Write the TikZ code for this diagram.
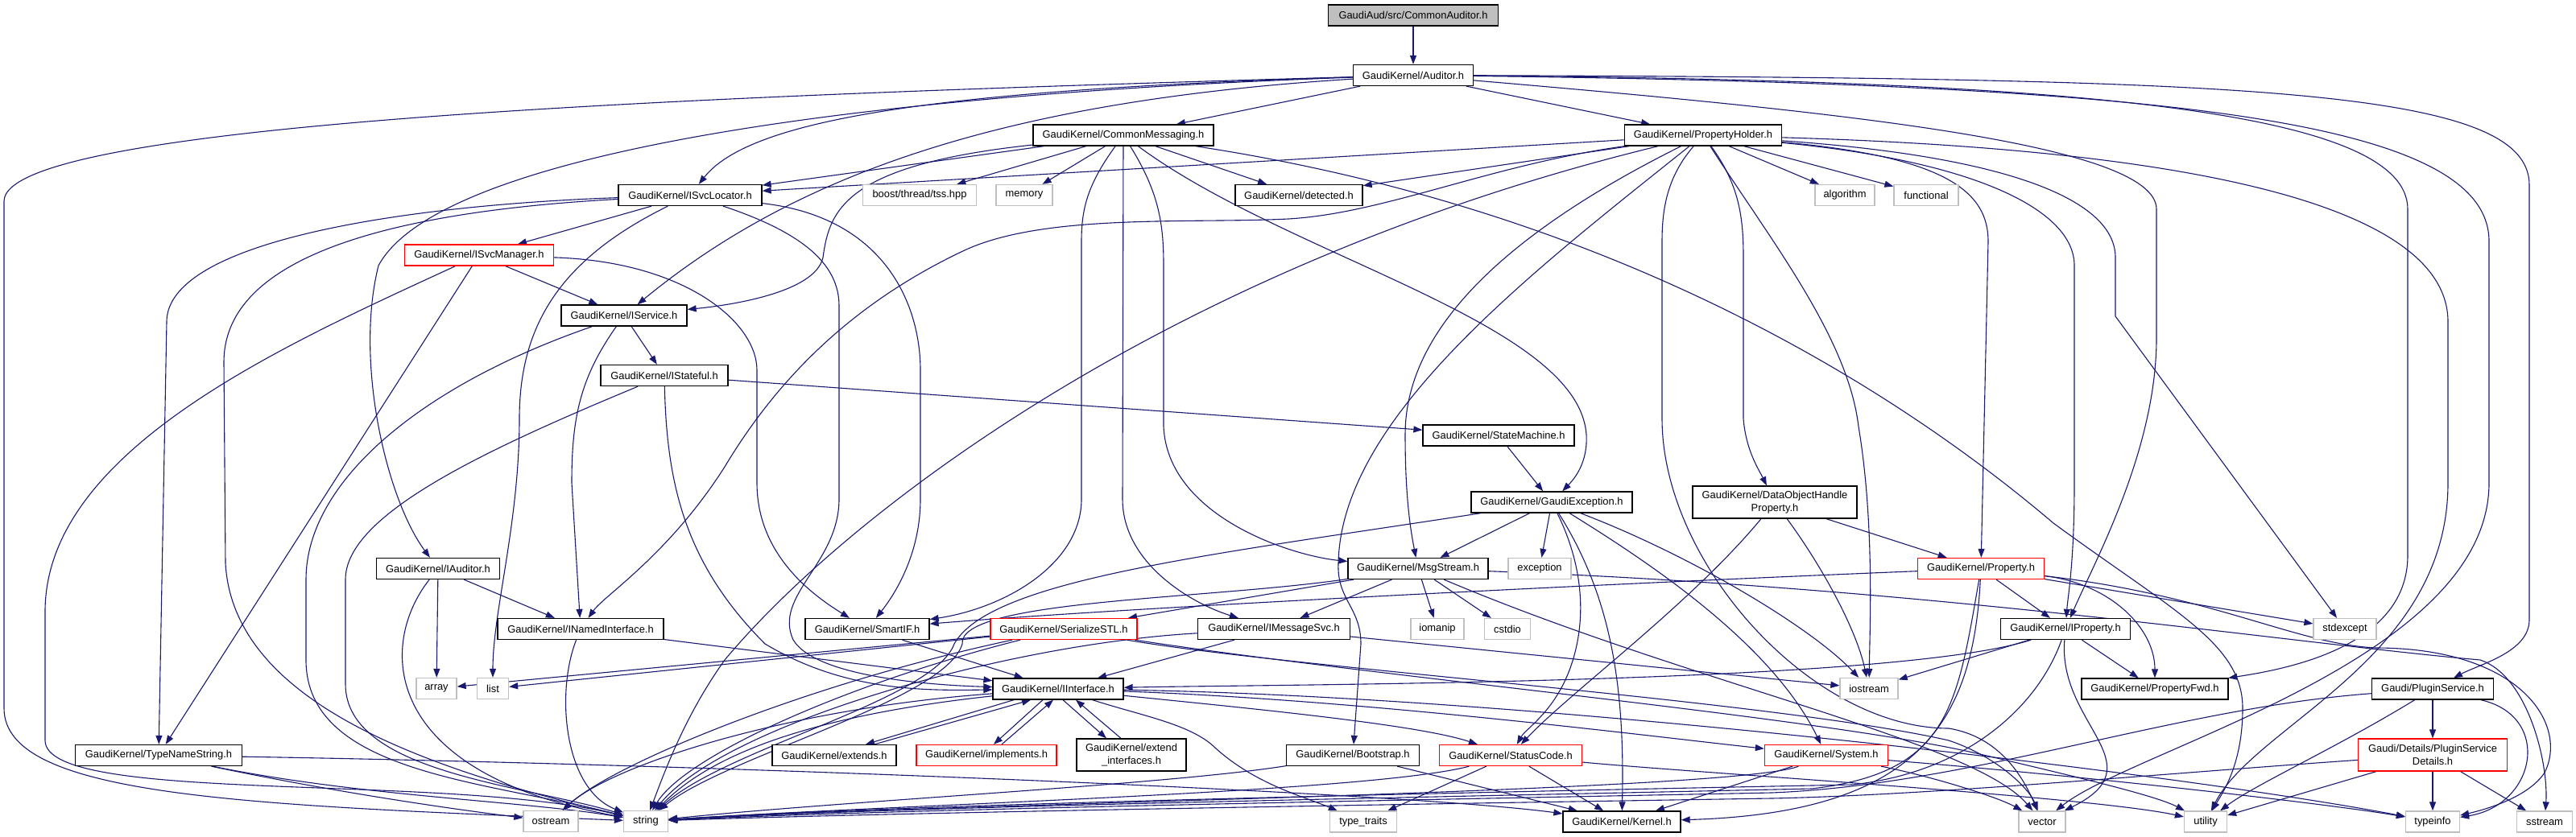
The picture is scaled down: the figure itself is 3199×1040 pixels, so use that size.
\documentclass[tikz,border=0pt]{standalone}
\usepackage{fontspec}
\setmainfont{Liberation Sans}
\usetikzlibrary{arrows.meta}
\definecolor{edgec}{HTML}{191970}
\definecolor{grayb}{HTML}{BFBFBF}
\definecolor{redb}{HTML}{FF0000}
\definecolor{rootf}{HTML}{BFBFBF}
\pgfdeclarelayer{bg}
\pgfsetlayers{bg,main}
\newcommand\gfnt{\fontsize{12.9}{15.5}\selectfont}
\begin{document}
\begin{tikzpicture}[x=1pt,y=-1pt,
  base/.style={rectangle, minimum height=26pt, inner sep=2pt, font=\gfnt, fill=white, align=center},
  nb/.style={base, draw=black, line width=1.3pt},
  sb/.style={base, draw=grayb, line width=1.3pt},
  rb/.style={base, draw=redb, line width=1.3pt},
  rootn/.style={nb, fill=rootf},
  ed/.style={draw=edgec, line width=1.1pt, -{Triangle[length=11pt,width=8pt]}}]
\useasboundingbox (0,0) rectangle (3199,1040);

\node[rootn, minimum width=211pt] (root) at (1755,19) {GaudiAud/src/CommonAuditor.h};
\node[nb, minimum width=149pt] (aud) at (1755,93.5) {GaudiKernel/Auditor.h};
\node[nb, minimum width=224pt] (cm) at (1395,168) {GaudiKernel/CommonMessaging.h};
\node[nb, minimum width=195pt] (ph) at (2115,168) {GaudiKernel/PropertyHolder.h};
\node[nb, minimum width=178pt] (isl) at (857,242.5) {GaudiKernel/ISvcLocator.h};
\node[sb, minimum width=141pt] (tss) at (1142,242.5) {boost/thread/tss.hpp};
\node[sb, minimum width=70pt] (mem) at (1272,242.5) {memory};
\node[nb, minimum width=158pt] (det) at (1613,242.5) {GaudiKernel/detected.h};
\node[sb, minimum width=74pt] (alg) at (2291,242.5) {algorithm};
\node[sb, minimum width=80pt] (fun) at (2392,242.5) {functional};
\node[rb, minimum width=185pt] (ism) at (595,317) {GaudiKernel/ISvcManager.h};
\node[nb, minimum width=156pt] (isv) at (775,392) {GaudiKernel/IService.h};
\node[nb, minimum width=158pt] (ist) at (825,466.5) {GaudiKernel/IStateful.h};
\node[nb, minimum width=188pt] (sm) at (1861,541) {GaudiKernel/StateMachine.h};
\node[nb, minimum width=200pt] (ge) at (1927,624) {GaudiKernel/GaudiException.h};
\node[nb, minimum width=204pt, minimum height=40pt] (dohp) at (2204,624) {GaudiKernel/DataObjectHandle\\Property.h};
\node[nb, minimum width=153pt] (iaud) at (544,706.5) {GaudiKernel/IAuditor.h};
\node[nb, minimum width=174pt] (ms) at (1761,706.5) {GaudiKernel/MsgStream.h};
\node[sb, minimum width=78pt] (exc) at (1912,706.5) {exception};
\node[rb, minimum width=157pt] (prop) at (2460,706.5) {GaudiKernel/Property.h};
\node[nb, minimum width=206pt] (nin) at (721,781.5) {GaudiKernel/INamedInterface.h};
\node[nb, minimum width=154pt] (sif) at (1077,781.5) {GaudiKernel/SmartIF.h};
\node[rb, minimum width=182pt] (sstl) at (1321,781.5) {GaudiKernel/SerializeSTL.h};
\node[nb, minimum width=189pt] (imsg) at (1582,781.5) {GaudiKernel/IMessageSvc.h};
\node[sb, minimum width=66pt] (ioman) at (1785,781.5) {iomanip};
\node[sb, minimum width=57pt] (cstd) at (1872,781.5) {cstdio};
\node[nb, minimum width=161pt] (ipr) at (2565,781.5) {GaudiKernel/IProperty.h};
\node[sb, minimum width=78pt] (stdx) at (2912,781.5) {stdexcept};
\node[sb, minimum width=50pt] (arr) at (542,855.5) {array};
\node[sb, minimum width=39pt] (lst) at (612,855.5) {list};
\node[nb, minimum width=162pt] (iif) at (1314,856) {GaudiKernel/IInterface.h};
\node[sb, minimum width=72pt] (ios) at (2321,855.5) {iostream};
\node[nb, minimum width=182pt] (pfwd) at (2676,856) {GaudiKernel/PropertyFwd.h};
\node[nb, minimum width=151pt] (plg) at (3021,856) {Gaudi/PluginService.h};
\node[nb, minimum width=207pt] (tns) at (197,938.5) {GaudiKernel/TypeNameString.h};
\node[nb, minimum width=154pt] (ext) at (1036,938.5) {GaudiKernel/extends.h};
\node[rb, minimum width=174pt] (impl) at (1225,938.5) {GaudiKernel/implements.h};
\node[nb, minimum width=136pt, minimum height=40pt] (exti) at (1405,938) {GaudiKernel/extend\\\_interfaces.h};
\node[nb, minimum width=165pt] (boot) at (1680,938.5) {GaudiKernel/Bootstrap.h};
\node[rb, minimum width=177pt] (sc) at (1876,938.5) {GaudiKernel/StatusCode.h};
\node[rb, minimum width=153pt] (sys) at (2268,938.5) {GaudiKernel/System.h};
\node[rb, minimum width=185pt, minimum height=40pt] (psd) at (3021,938) {Gaudi/Details/PluginService\\Details.h};
\node[sb, minimum width=68pt] (ost) at (684,1020.5) {ostream};
\node[sb, minimum width=55pt] (str) at (802,1020.5) {string};
\node[sb, minimum width=83pt] (tt) at (1693,1021) {type\_traits};
\node[nb, minimum width=146pt] (ker) at (2014,1021) {GaudiKernel/Kernel.h};
\node[sb, minimum width=58pt] (vec) at (2536,1021) {vector};
\node[sb, minimum width=53pt] (utl) at (2739,1021) {utility};
\node[sb, minimum width=67pt] (tinfo) at (3021,1021) {typeinfo};
\node[sb, minimum width=69pt] (sst) at (3160,1021) {sstream};

\begin{pgfonlayer}{bg}
% root / Auditor
\draw[ed] (root) -- (aud);
\draw[ed] (aud) -- (cm);
\draw[ed] (aud) -- (ph);
\draw[ed] (aud) .. controls (1150,112) and (930,150) .. (isl);
\draw[ed] (aud) .. controls (1250,125) and (990,215) .. (isv);
\draw[ed] (aud) .. controls (1000,120) and (540,200) .. (470,330) .. controls (440,450) and (480,620) .. (iaud);
\draw[ed] (aud) .. controls (900,118) and (5,150) .. (5,250) -- (5,880) .. controls (5,990) and (300,1000) .. (str);
\draw[ed] (aud) .. controls (2300,140) and (2678,180) .. (2678,260) -- (2678,420) .. controls (2678,560) and (2600,700) .. (ipr);
\draw[ed] (aud) .. controls (2600,100) and (2990,140) .. (2990,260) -- (2990,690) .. controls (2990,800) and (2850,830) .. (pfwd);
\draw[ed] (aud) .. controls (2800,97) and (3141,110) .. (3141,230) -- (3141,770) .. controls (3141,810) and (3080,825) .. (plg);
\draw[ed] (aud) .. controls (2700,105) and (3091,150) .. (3091,300) -- (3091,600) .. controls (3091,820) and (2650,930) .. (vec);
% CommonMessaging
\draw[ed] (cm) -- (isl);
\draw[ed] (cm) .. controls (1050,205) and (1030,260) .. (1022,320) .. controls (1012,365) and (900,380) .. (isv);
\draw[ed] (cm) -- (tss);
\draw[ed] (cm) -- (mem);
\draw[ed] (cm) .. controls (1350,230) and (1343,260) .. (1343,300) -- (1343,620) .. controls (1343,700) and (1250,755) .. (sif);
\draw[ed] (cm) -- (1394,620) .. controls (1394,700) and (1480,750) .. (imsg);
\draw[ed] (cm) .. controls (1440,240) and (1445,280) .. (1445,330) -- (1445,530) .. controls (1450,640) and (1600,690) .. (ms);
\draw[ed] (cm) .. controls (1600,320) and (1960,400) .. (1970,540) .. controls (1972,575) and (1955,595) .. (ge);
\draw[ed] (cm) -- (det);
\draw[ed] (cm) .. controls (2000,260) and (2350,480) .. (2550,650) .. controls (2700,760) and (2785,800) .. (2785,880) .. controls (2785,950) and (2760,985) .. (utl);
% PropertyHolder
\draw[ed] (ph) -- (isl);
\draw[ed] (ph) -- (det);
\draw[ed] (ph) .. controls (1850,205) and (1720,265) .. (1600,272) .. controls (1480,278) and (1300,265) .. (1200,310) .. controls (1050,380) and (960,480) .. (900,580) .. controls (830,690) and (750,740) .. (nin);
\draw[ed] (ph) .. controls (1450,330) and (1050,640) .. (900,820) .. controls (850,890) and (825,960) .. (str);
\draw[ed] (ph) .. controls (1850,300) and (1745,420) .. (1745,540) .. controls (1745,620) and (1752,660) .. (ms);
\draw[ed] (ph) .. controls (1900,340) and (1665,520) .. (1662,700) .. controls (1660,745) and (1690,755) .. (1690,800) -- (boot);
\draw[ed] (ph) .. controls (2070,220) and (2064,260) .. (2064,300) -- (2064,520) .. controls (2064,700) and (2250,905) .. (2420,905) .. controls (2480,915) and (2510,960) .. (vec);
\draw[ed] (ph) .. controls (2160,230) and (2165,270) .. (2165,320) -- (2165,520) .. controls (2168,560) and (2185,585) .. (dohp);
\draw[ed] (ph) .. controls (2200,300) and (2295,420) .. (2308,530) .. controls (2328,650) and (2322,780) .. (ios);
\draw[ed] (ph) -- (alg);
\draw[ed] (ph) -- (fun);
\draw[ed] (ph) .. controls (2700,185) and (3040,250) .. (3040,400) -- (3040,600) .. controls (3040,820) and (2800,900) .. (utl);
\draw[ed] (ph) .. controls (2500,195) and (2627,250) .. (2627,320) -- (2627,393) -- (stdx);
\draw[ed] (ph) .. controls (2450,200) and (2576,260) .. (2576,330) -- (2576,600) .. controls (2576,700) and (2568,740) .. (ipr);
\draw[ed] (ph) .. controls (2420,195) and (2469,240) .. (2469,300) -- (prop);
% ISvcLocator
\draw[ed] (isl) -- (ism);
\draw[ed] (isl) .. controls (500,255) and (207,300) .. (207,400) -- (tns);
\draw[ed] (isl) .. controls (450,265) and (278,330) .. (278,450) -- (280,700) .. controls (290,880) and (550,960) .. (str);
\draw[ed] (isl) .. controls (700,320) and (645,400) .. (645,520) .. controls (645,650) and (612,760) .. (lst);
\draw[ed] (isl) .. controls (1000,290) and (1042,330) .. (1042,380) -- (1042,620) .. controls (1042,700) and (960,740) .. (985,795) .. controls (1015,845) and (1180,852) .. (iif);
\draw[ed] (isl) .. controls (1100,270) and (1143,380) .. (1143,460) -- (1143,620) .. controls (1143,690) and (1110,740) .. (sif);
% ISvcManager
\draw[ed] (ism) -- (isv);
\draw[ed] (ism) .. controls (850,325) and (940,400) .. (940,460) -- (940,600) .. controls (940,690) and (1010,740) .. (sif);
\draw[ed] (ism) -- (tns);
\draw[ed] (ism) .. controls (350,430) and (56,560) .. (56,760) -- (56,920) .. controls (56,1000) and (550,960) .. (str);
% IService / IStateful
\draw[ed] (isv) .. controls (520,480) and (380,600) .. (380,720) -- (380,820) .. controls (380,960) and (600,970) .. (str);
\draw[ed] (isv) .. controls (720,470) and (710,520) .. (710,600) -- (nin);
\draw[ed] (isv) -- (ist);
\draw[ed] (ist) -- (sm);
\draw[ed] (ist) .. controls (600,560) and (429,640) .. (429,720) -- (429,850) .. controls (429,960) and (650,975) .. (str);
\draw[ed] (ist) .. controls (828,600) and (850,700) .. (950,800) .. controls (1050,860) and (1150,858) .. (iif);
\draw[ed] (sm) -- (ge);
% GaudiException
\draw[ed] (ge) -- (ms);
\draw[ed] (ge) -- (exc);
\draw[ed] (ge) .. controls (1960,690) and (1975,760) .. (1950,830) .. controls (1930,885) and (1895,905) .. (sc);
\draw[ed] (ge) .. controls (2000,740) and (2018,850) .. (ker);
\draw[ed] (ge) .. controls (2050,700) and (2200,800) .. (sys);
\draw[ed] (ge) .. controls (2100,690) and (2250,780) .. (ios);
\draw[ed] (ge) .. controls (1500,690) and (1230,720) .. (1185,800) .. controls (1160,870) and (900,930) .. (str);
% DataObjectHandleProperty
\draw[ed] (dohp) .. controls (2100,750) and (1950,860) .. (sc);
\draw[ed] (dohp) .. controls (2260,700) and (2305,780) .. (ios);
\draw[ed] (dohp) -- (prop);
% MsgStream
\draw[ed] (ms) -- (imsg);
\draw[ed] (ms) -- (ioman);
\draw[ed] (ms) -- (cstd);
\draw[ed] (ms) -- (sstl);
\draw[ed] (ms) .. controls (1500,745) and (1190,745) .. (1195,800) .. controls (1175,870) and (900,940) .. (str);
\draw[ed] (ms) .. controls (2100,850) and (2450,920) .. (vec);
\draw[ed] (ms) .. controls (2400,730) and (2850,800) .. (3080,820) .. controls (3140,840) and (3165,950) .. (sst);
% Property
\draw[ed] (prop) .. controls (2000,725) and (1400,755) .. (sif);
\draw[ed] (prop) -- (ipr);
\draw[ed] (prop) .. controls (2620,725) and (2676,780) .. (pfwd);
\draw[ed] (prop) -- (stdx);
\draw[ed] (prop) .. controls (2750,740) and (2850,800) .. (2950,805) .. controls (3130,805) and (3190,900) .. (3160,960) .. controls (3140,990) and (3090,1005) .. (tinfo);
\draw[ed] (prop) .. controls (2430,880) and (2420,960) .. (2250,980) .. controls (1700,992) and (1100,1003) .. (str);
\draw[ed] (prop) .. controls (2450,900) and (2380,1010) .. (ker);
% INamedInterface / IAuditor / TypeNameString
\draw[ed] (nin) -- (iif);
\draw[ed] (nin) .. controls (690,860) and (700,980) .. (str);
\draw[ed] (iaud) -- (arr);
\draw[ed] (iaud) -- (nin);
\draw[ed] (iaud) .. controls (470,800) and (470,960) .. (str);
\draw[ed] (tns) .. controls (450,990) and (650,995) .. (str);
\draw[ed] (tns) .. controls (420,985) and (560,1005) .. (ost);
\draw[ed] (tns) .. controls (900,950) and (1750,985) .. (ker);
% SmartIF / SerializeSTL / IMessageSvc
\draw[ed] (sif) -- (iif);
\draw[ed] (sstl) -- (arr);
\draw[ed] (sstl) -- (lst);
\draw[ed] (sstl) .. controls (1000,850) and (760,950) .. (ost);
\draw[ed] (sstl) .. controls (1050,850) and (850,940) .. (str);
\draw[ed] (sstl) .. controls (1600,830) and (2200,870) .. (2420,920) .. controls (2480,940) and (2520,980) .. (vec);
\draw[ed] (sstl) .. controls (1700,840) and (2250,890) .. (2450,935) .. controls (2600,970) and (2680,990) .. (utl);
\draw[ed] (imsg) -- (iif);
\draw[ed] (imsg) -- (ios);
\draw[ed] (imsg) .. controls (1250,800) and (900,900) .. (str);
% IProperty
\draw[ed] (ipr) -- (ios);
\draw[ed] (ipr) .. controls (2350,850) and (1600,850) .. (iif);
\draw[ed] (ipr) .. controls (2530,880) and (2440,960) .. (2300,975) .. controls (1800,985) and (1100,1000) .. (str);
\draw[ed] (ipr) .. controls (2555,900) and (2680,950) .. (vec);
\draw[ed] (ipr) -- (pfwd);
% IInterface
\draw[ed] ([xshift=-55pt]iif.south) -- ([xshift=39pt]ext.north);
\draw[ed] ([xshift=50pt]ext.north) -- ([xshift=-34pt]iif.south);
\draw[ed] ([xshift=-19pt]iif.south) -- ([xshift=9pt]impl.north);
\draw[ed] ([xshift=19pt]impl.north) -- ([xshift=-6pt]iif.south);
\draw[ed] ([xshift=6pt]iif.south) -- ([xshift=-31pt]exti.north);
\draw[ed] ([xshift=-13pt]exti.north) -- ([xshift=22pt]iif.south);
\draw[ed] (iif) .. controls (1000,890) and (880,940) .. (str);
\draw[ed] (iif) .. controls (980,880) and (760,950) .. (ost);
\draw[ed] (iif) .. controls (1550,880) and (1760,900) .. (sc);
\draw[ed] (iif) .. controls (1700,870) and (2050,915) .. (sys);
\draw[ed] (iif) .. controls (1900,865) and (2700,960) .. (tinfo);
\draw[ed] (iif) .. controls (1420,890) and (1480,900) .. (1510,930) .. controls (1560,975) and (1620,990) .. (tt);
% Bootstrap / StatusCode / System
\draw[ed] (boot) .. controls (1450,975) and (1050,995) .. (str);
\draw[ed] (boot) -- (ker);
\draw[ed] (sc) -- (tt);
\draw[ed] (sc) -- (ker);
\draw[ed] (sc) .. controls (1700,985) and (1100,1000) .. (str);
\draw[ed] (sc) .. controls (2100,960) and (2600,990) .. (utl);
\draw[ed] (sys) -- (ker);
\draw[ed] (sys) .. controls (2150,985) and (1100,1000) .. (str);
\draw[ed] (sys) .. controls (2400,965) and (2480,990) .. (vec);
\draw[ed] (sys) .. controls (2600,965) and (2900,1000) .. (tinfo);
% PluginService
\draw[ed] (plg) .. controls (2700,880) and (2450,975) .. (2200,985) .. controls (1700,995) and (1100,1006) .. (str);
\draw[ed] (plg) .. controls (2900,930) and (2800,975) .. (utl);
\draw[ed] (plg) -- (psd);
\draw[ed] (plg) .. controls (3170,890) and (3150,1000) .. (tinfo);
\draw[ed] (psd) .. controls (2700,960) and (2400,988) .. (2200,992) .. controls (1700,1000) and (1100,1010) .. (str);
\draw[ed] (psd) -- (utl);
\draw[ed] (psd) -- (tinfo);
\draw[ed] (psd) -- (sst);
\end{pgfonlayer}
\end{tikzpicture}
\end{document}
